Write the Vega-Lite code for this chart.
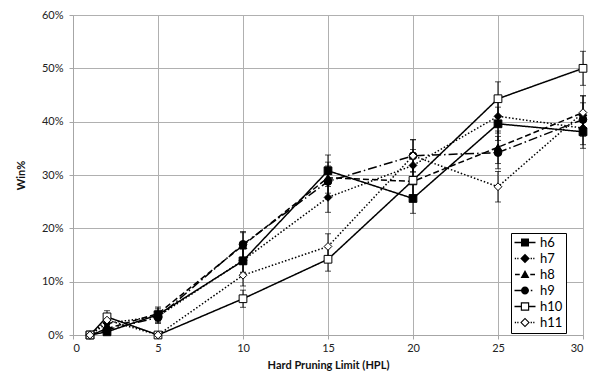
{
  "$schema": "https://vega.github.io/schema/vega-lite/v6.json",
  "width": 510,
  "height": 320,
  "autosize": "none",
  "padding": {"left": 73, "top": 15, "right": 15, "bottom": 48},
  "background": "white",
  "config": {
    "view": {"stroke": null},
    "font": "Lato",
    "axis": {
      "domainColor": "#a6a6a6",
      "gridColor": "#b0b0b0",
      "tickColor": "#a6a6a6",
      "tickSize": 4,
      "labelFont": "Lato",
      "labelFontSize": 11,
      "labelColor": "#222222",
      "titleFont": "Lato",
      "titleFontSize": 11,
      "titleFontWeight": "bold",
      "titleColor": "#111111"
    }
  },
  "data": {
    "values": [
      {"series": "h6", "hpl": 1, "win": 0, "lo": 0, "hi": 0},
      {"series": "h6", "hpl": 2, "win": 0.006, "lo": 0.0011, "hi": 0.0109},
      {"series": "h6", "hpl": 5, "win": 0.038, "lo": 0.0258, "hi": 0.0502},
      {"series": "h6", "hpl": 10, "win": 0.139, "lo": 0.1169, "hi": 0.1611},
      {"series": "h6", "hpl": 15, "win": 0.308, "lo": 0.2785, "hi": 0.3375},
      {"series": "h6", "hpl": 20, "win": 0.256, "lo": 0.2281, "hi": 0.2839},
      {"series": "h6", "hpl": 25, "win": 0.396, "lo": 0.3648, "hi": 0.4272},
      {"series": "h6", "hpl": 30, "win": 0.381, "lo": 0.35, "hi": 0.412},
      {"series": "h7", "hpl": 1, "win": 0, "lo": 0, "hi": 0},
      {"series": "h7", "hpl": 2, "win": 0.022, "lo": 0.0126, "hi": 0.0314},
      {"series": "h7", "hpl": 5, "win": 0.035, "lo": 0.0233, "hi": 0.0467},
      {"series": "h7", "hpl": 10, "win": 0.14, "lo": 0.1178, "hi": 0.1622},
      {"series": "h7", "hpl": 15, "win": 0.258, "lo": 0.23, "hi": 0.286},
      {"series": "h7", "hpl": 20, "win": 0.318, "lo": 0.2882, "hi": 0.3478},
      {"series": "h7", "hpl": 25, "win": 0.41, "lo": 0.3786, "hi": 0.4414},
      {"series": "h7", "hpl": 30, "win": 0.388, "lo": 0.3569, "hi": 0.4191},
      {"series": "h8", "hpl": 1, "win": 0, "lo": 0, "hi": 0},
      {"series": "h8", "hpl": 2, "win": 0.012, "lo": 0.0051, "hi": 0.0189},
      {"series": "h8", "hpl": 5, "win": 0.04, "lo": 0.0275, "hi": 0.0525},
      {"series": "h8", "hpl": 10, "win": 0.168, "lo": 0.1441, "hi": 0.1919},
      {"series": "h8", "hpl": 15, "win": 0.295, "lo": 0.2659, "hi": 0.3241},
      {"series": "h8", "hpl": 20, "win": 0.288, "lo": 0.2591, "hi": 0.3169},
      {"series": "h8", "hpl": 25, "win": 0.352, "lo": 0.3215, "hi": 0.3825},
      {"series": "h8", "hpl": 30, "win": 0.417, "lo": 0.3855, "hi": 0.4485},
      {"series": "h9", "hpl": 1, "win": 0, "lo": 0, "hi": 0},
      {"series": "h9", "hpl": 2, "win": 0.01, "lo": 0.0036, "hi": 0.0164},
      {"series": "h9", "hpl": 5, "win": 0.033, "lo": 0.0216, "hi": 0.0444},
      {"series": "h9", "hpl": 10, "win": 0.17, "lo": 0.146, "hi": 0.194},
      {"series": "h9", "hpl": 15, "win": 0.288, "lo": 0.2591, "hi": 0.3169},
      {"series": "h9", "hpl": 20, "win": 0.336, "lo": 0.3058, "hi": 0.3662},
      {"series": "h9", "hpl": 25, "win": 0.342, "lo": 0.3117, "hi": 0.3723},
      {"series": "h9", "hpl": 30, "win": 0.404, "lo": 0.3726, "hi": 0.4354},
      {"series": "h10", "hpl": 1, "win": 0, "lo": 0, "hi": 0},
      {"series": "h10", "hpl": 2, "win": 0.034, "lo": 0.0224, "hi": 0.0456},
      {"series": "h10", "hpl": 5, "win": 0, "lo": 0, "hi": 0},
      {"series": "h10", "hpl": 10, "win": 0.068, "lo": 0.0519, "hi": 0.0841},
      {"series": "h10", "hpl": 15, "win": 0.142, "lo": 0.1197, "hi": 0.1643},
      {"series": "h10", "hpl": 20, "win": 0.29, "lo": 0.261, "hi": 0.319},
      {"series": "h10", "hpl": 25, "win": 0.443, "lo": 0.4113, "hi": 0.4747},
      {"series": "h10", "hpl": 30, "win": 0.5, "lo": 0.4681, "hi": 0.5319},
      {"series": "h11", "hpl": 1, "win": 0, "lo": 0, "hi": 0},
      {"series": "h11", "hpl": 2, "win": 0.028, "lo": 0.0175, "hi": 0.0385},
      {"series": "h11", "hpl": 5, "win": 0, "lo": 0, "hi": 0},
      {"series": "h11", "hpl": 10, "win": 0.112, "lo": 0.0919, "hi": 0.1321},
      {"series": "h11", "hpl": 15, "win": 0.166, "lo": 0.1422, "hi": 0.1898},
      {"series": "h11", "hpl": 20, "win": 0.336, "lo": 0.3058, "hi": 0.3662},
      {"series": "h11", "hpl": 25, "win": 0.278, "lo": 0.2494, "hi": 0.3066},
      {"series": "h11", "hpl": 30, "win": 0.417, "lo": 0.3855, "hi": 0.4485}
    ]
  },
  "layer": [
    {
      "mark": {"type": "line", "color": "black", "strokeWidth": 1.5},
      "encoding": {
        "x": {
          "field": "hpl", "type": "quantitative", "title": "Hard Pruning Limit (HPL)",
          "scale": {"domain": [0, 30], "nice": false, "zero": false},
          "axis": {"values": [0, 5, 10, 15, 20, 25, 30], "grid": true, "labelPadding": 3, "titlePadding": 6}
        },
        "y": {
          "field": "win", "type": "quantitative", "title": "Win%",
          "scale": {"domain": [0, 0.6], "nice": false},
          "axis": {"values": [0, 0.1, 0.2, 0.3, 0.4, 0.5, 0.6], "format": ".0%", "grid": true, "labelPadding": 6, "titlePadding": 15}
        },
        "strokeDash": {
          "field": "series", "type": "nominal",
          "scale": {"domain": ["h6", "h7", "h8", "h9", "h10", "h11"], "range": [[1, 0], [1.5, 2], [6, 3], [9, 3, 1.5, 3], [1, 0], [1.5, 2]]},
          "legend": null
        }
      }
    },
    {
      "mark": {"type": "errorbar", "ticks": {"size": 6, "color": "black"}, "rule": {"color": "black", "strokeWidth": 1}},
      "encoding": {
        "x": {"field": "hpl", "type": "quantitative", "title": "Hard Pruning Limit (HPL)"},
        "y": {"field": "lo", "type": "quantitative", "title": "Win%"},
        "y2": {"field": "hi"}
      }
    },
    {
      "mark": {"type": "point", "filled": true, "stroke": "black", "strokeWidth": 1, "size": 60, "opacity": 1},
      "encoding": {
        "x": {"field": "hpl", "type": "quantitative", "title": "Hard Pruning Limit (HPL)"},
        "y": {"field": "win", "type": "quantitative", "title": "Win%"},
        "shape": {
          "field": "series", "type": "nominal",
          "scale": {"domain": ["h6", "h7", "h8", "h9", "h10", "h11"], "range": ["square", "diamond", "triangle-up", "circle", "square", "diamond"]},
          "legend": null
        },
        "fill": {
          "field": "series", "type": "nominal",
          "scale": {"domain": ["h6", "h7", "h8", "h9", "h10", "h11"], "range": ["black", "black", "black", "black", "white", "white"]},
          "legend": null
        }
      }
    },
    {
      "mark": {"type": "point", "filled": true, "fill": "black", "strokeWidth": 0, "size": 100, "opacity": 0},
      "encoding": {
        "x": {"field": "hpl", "type": "quantitative", "title": "Hard Pruning Limit (HPL)"},
        "y": {"field": "win", "type": "quantitative", "title": "Win%"},
        "shape": {
          "field": "series", "type": "nominal",
          "scale": {"domain": ["h6", "h7", "h8", "h9", "h10", "h11"], "range": [
            "M-2.1,-0.15H-0.8V0.15H-2.1ZM0.8,-0.15H2.1V0.15H0.8ZM-0.8,-0.8H0.8V0.8H-0.8Z",
            "M-2.04,-0.15H-1.79V0.15H-2.04ZM-1.55,-0.15H-1.3V0.15H-1.55ZM0,-0.95L0.95,0L0,0.95L-0.95,0ZM1.13,-0.15H1.39V0.15H1.13ZM1.64,-0.15H1.89V0.15H1.64Z",
            "M-2,-0.15H-1.05V0.15H-2ZM0,-0.88L0.88,0.7H-0.88ZM1.05,-0.15H2V0.15H1.05Z",
            "M-2.1,-0.15H-0.76V0.15H-2.1ZM0.8,0A0.8,0.8 0 1 1 -0.8,0A0.8,0.8 0 1 1 0.8,0ZM1.16,-0.15H1.47V0.15H1.16Z",
            "M-2.1,-0.15H-0.84V0.15H-2.1ZM0.84,-0.15H2.1V0.15H0.84ZM-0.84,-0.84H0.84V0.84H-0.84ZM-0.61,-0.61V0.61H0.61V-0.61Z",
            "M-2.04,-0.15H-1.79V0.15H-2.04ZM-1.55,-0.15H-1.3V0.15H-1.55ZM0,-0.95L0.95,0L0,0.95L-0.95,0ZM0,-0.65L-0.65,0L0,0.65L0.65,0ZM1.13,-0.15H1.39V0.15H1.13ZM1.64,-0.15H1.89V0.15H1.64Z"
          ]},
          "legend": {
            "orient": "none", "legendX": 438, "legendY": 218, "title": null,
            "labelFont": "Lato", "labelFontSize": 13, "labelColor": "black", "labelOffset": 8.5,
            "fillColor": "white", "strokeColor": "black", "padding": 3, "rowPadding": 2,
            "symbolSize": 100, "symbolOffset": 4.5, "symbolFillColor": "black", "symbolStrokeWidth": 0, "symbolOpacity": 1
          }
        }
      }
    }
  ],
  "resolve": {
    "scale": {"shape": "independent"},
    "legend": {"shape": "independent"}
  }
}
